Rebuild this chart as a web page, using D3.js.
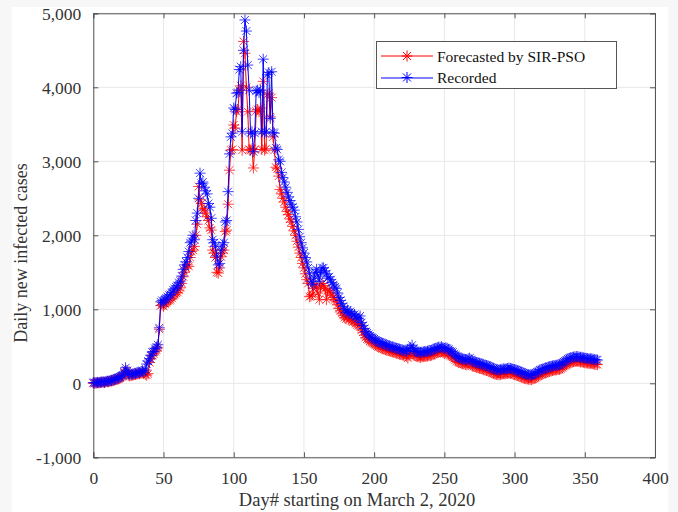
<!DOCTYPE html>
<html>
<head>
<meta charset="utf-8">
<script src="https://cdn.jsdelivr.net/npm/d3@7"></script>
<style>
  body { margin: 0; background: #f7f7f7; }
  svg { display: block; font-family: "Liberation Serif", "Times New Roman", serif; }
</style>
</head>
<body>
<div id="chart"></div>
<script>
// daily new infected cases, day 0 = March 2, 2020
const recorded = [
  10, 5, 8, 12, 10, 15, 18, 20, 15, 25,
  30, 28, 35, 40, 45, 55, 60, 70, 75, 85,
  100, 110, 150, 210, 170, 130, 115, 120, 125, 130,
  135, 140, 150, 145, 160, 170, 150, 180, 260, 300,
  330, 380, 420, 430, 470, 490, 520, 750, 1100, 1120,
  1090, 1130, 1150, 1170, 1190, 1200, 1230, 1260, 1280, 1300,
  1320, 1360, 1380, 1450, 1540, 1600, 1640, 1700, 1780, 1900,
  1920, 2000, 1940, 2200, 2300, 2500, 2840, 2700, 2720, 2650,
  2600, 2560, 2430, 2380, 2230, 1940, 1900, 1850, 1720, 1600,
  1620, 1800, 1870, 1900, 2180, 2200, 2590, 3100, 3330, 3380,
  3720, 3700, 3920, 3930, 4240, 4280, 3400, 4500, 4910, 4760,
  4300, 3960, 3380, 3400, 3130, 3380, 3950, 3960, 3930, 3960,
  3400, 4380, 3380, 3400, 4170, 4200, 3580, 4210, 3390, 3380,
  3180, 3160, 3020, 3000, 2850, 2780, 2720, 2650, 2580, 2520,
  2470, 2420, 2380, 2340, 2250, 2180, 2080, 1980, 1900, 1830,
  1760, 1700, 1640, 1560, 1480, 1380, 1330, 1420, 1500, 1540,
  1450, 1380, 1500, 1560, 1560, 1520, 1480, 1420, 1440, 1400,
  1360, 1330, 1300, 1280, 1220, 1160, 1120, 1080, 1040, 1000,
  960, 990, 950, 970, 940, 920, 930, 900, 870, 880,
  910, 820, 780, 740, 700, 680, 660, 640, 620, 610,
  600, 585, 570, 560, 555, 550, 540, 530, 520, 518,
  510, 505, 495, 490, 485, 480, 473, 470, 460, 455,
  450, 445, 440, 430, 450, 470, 480, 515, 470, 440,
  430, 425, 420, 418, 420, 425, 430, 427, 435, 440,
  440, 445, 460, 465, 473, 480, 490, 485, 495, 480,
  470, 478, 473, 460, 440, 430, 420, 400, 380, 360,
  350, 345, 340, 330, 325, 320, 315, 330, 340, 320,
  300, 295, 290, 280, 275, 270, 265, 260, 250, 245,
  240, 235, 225, 220, 210, 200, 190, 185, 182, 180,
  185, 190, 195, 192, 195, 200, 205, 203, 198, 190,
  185, 180, 170, 165, 157, 150, 140, 130, 125, 120,
  115, 112, 110, 120, 130, 140, 150, 160, 180, 185,
  190, 200, 205, 210, 220, 225, 230, 235, 240, 242,
  245, 247, 250, 260, 275, 290, 300, 315, 330, 338,
  345, 350, 355, 358, 362, 360, 355, 350, 352, 345,
  340, 338, 335, 330, 332, 330, 325, 320, 318, 315
];

const forecasted = [
  0, 5, 3, 8, 6, 10, 12, 15, 10, 18,
  22, 20, 28, 30, 35, 42, 48, 55, 60, 70,
  85, 95, 130, 180, 150, 110, 100, 105, 110, 115,
  118, 125, 130, 128, 140, 150, 135, 120, 110, 130,
  280, 330, 380, 400, 430, 450, 480, 730, 1050, 1060,
  1040, 1070, 1090, 1110, 1120, 1130, 1150, 1180, 1200, 1220,
  1230, 1260, 1290, 1350, 1440, 1500, 1560, 1600, 1580, 1700,
  1780, 1800, 1850, 2000, 2150, 2660, 2480, 2430, 2340, 2360,
  2300, 2250, 2200, 2100, 2070, 1800, 1760, 1700, 1500, 1490,
  1560, 1710, 1760, 1800, 2050, 2070, 2420, 2880, 3150, 3160,
  3490, 3450, 3670, 3700, 3960, 4020, 3150, 4620, 4460, 4000,
  3670, 3160, 3150, 3170, 2910, 3160, 3680, 3700, 3670, 3720,
  3160, 4080, 3150, 3170, 3900, 3920, 3600, 3860, 3330, 3150,
  2920, 2900, 2800, 2620, 2560, 2500, 2450, 2380, 2320, 2280,
  2220, 2180, 2120, 2060, 2000, 1920, 1840, 1760, 1700, 1620,
  1560, 1480, 1400, 1350, 1170, 1180, 1200, 1280, 1340, 1300,
  1220, 1130, 1300, 1350, 1320, 1280, 1130, 1250, 1260, 1220,
  1190, 1160, 1130, 1110, 1060, 1010, 980, 950, 920, 890,
  870, 900, 860, 880, 850, 830, 840, 810, 790, 780,
  800, 720, 690, 650, 620, 600, 590, 570, 555, 545,
  535, 520, 505, 495, 490, 480, 470, 462, 455, 450,
  445, 440, 430, 425, 420, 415, 408, 405, 395, 390,
  385, 380, 375, 365, 340, 380, 400, 420, 400, 375,
  365, 360, 355, 352, 355, 360, 365, 362, 370, 375,
  375, 380, 395, 400, 408, 415, 425, 420, 430, 415,
  405, 412, 408, 395, 375, 365, 355, 335, 315, 295,
  285, 280, 275, 265, 260, 255, 250, 262, 275, 255,
  235, 230, 225, 215, 210, 205, 200, 195, 185, 180,
  175, 170, 160, 155, 145, 135, 125, 120, 118, 115,
  120, 125, 130, 128, 130, 135, 140, 138, 133, 125,
  120, 115, 105, 100, 92, 85, 75, 68, 62, 58,
  55, 52, 50, 58, 68, 78, 88, 98, 115, 122,
  128, 138, 142, 148, 158, 162, 168, 172, 178, 180,
  183, 185, 188, 198, 212, 228, 238, 252, 268, 275,
  282, 288, 292, 296, 300, 298, 293, 288, 290, 283,
  278, 275, 272, 268, 270, 268, 263, 258, 255, 252
];

const xTicks = [0, 50, 100, 150, 200, 250, 300, 350, 400];
const yTicks = [-1000, 0, 1000, 2000, 3000, 4000, 5000];
const seriesNames = ['Forecasted by SIR-PSO', 'Recorded'];
const seriesColors = ['#ff0000', '#0000ff'];

const width = 678, height = 512;
const margin = { left: 93.3, right: 23, top: 13.3, bottom: 54.7 };

const svg = d3.select('#chart').append('svg')
    .attr('width', width)
    .attr('height', height);

svg.append('rect')
    .attr('x', 12).attr('y', 7)
    .attr('width', 656).attr('height', height - 7)
    .attr('fill', '#fff');

const x = d3.scaleLinear().domain([0, 400]).range([margin.left, width - margin.right]);
const y = d3.scaleLinear().domain([-1000, 5000]).range([height - margin.bottom, margin.top]);

// grid
svg.append('g').selectAll('line').data(xTicks).enter().append('line')
    .attr('x1', d => x(d)).attr('x2', d => x(d))
    .attr('y1', y(-1000)).attr('y2', y(5000))
    .attr('stroke', '#e8e8e8').attr('stroke-width', 1);
svg.append('g').selectAll('line').data(yTicks).enter().append('line')
    .attr('x1', x(0)).attr('x2', x(400))
    .attr('y1', d => y(d)).attr('y2', d => y(d))
    .attr('stroke', '#e8e8e8').attr('stroke-width', 1);

// axes (ticks inside, box all round)
const fmt = d => d3.format(',')(d).replace('\u2212', '-');
const axisColor = '#555';
const axes = [
    d3.axisBottom(x).tickValues(xTicks).tickSize(-5).tickFormat(d3.format('d')),
    d3.axisTop(x).tickValues(xTicks).tickSize(-5).tickFormat(''),
    d3.axisLeft(y).tickValues(yTicks).tickSize(-5).tickFormat(fmt),
    d3.axisRight(y).tickValues(yTicks).tickSize(-5).tickFormat('')
];
const axisPos = [
    `translate(0,${y(-1000)})`, `translate(0,${y(5000)})`,
    `translate(${x(0)},0)`, `translate(${x(400)},0)`
];
axes.forEach((ax, i) => {
    const g = svg.append('g').attr('transform', axisPos[i]).call(ax);
    g.select('.domain').attr('stroke', axisColor);
    g.selectAll('.tick line').attr('stroke', axisColor);
    g.selectAll('.tick text')
        .attr('fill', '#333')
        .style('font-size', '17.5px')
        .style('font-family', '"Liberation Serif", serif');
    if (i === 0) g.selectAll('.tick text').attr('dy', '1.05em').attr('y', 8);
    if (i === 2) g.selectAll('.tick text').attr('x', -12).attr('dy', '0.35em');
});

// axis labels
svg.append('text')
    .attr('x', 357).attr('y', 506)
    .attr('text-anchor', 'middle')
    .attr('fill', '#333')
    .style('font-size', '18.5px')
    .text('Day# starting on March 2, 2020');
svg.append('text')
    .attr('transform', `translate(27,253) rotate(-90)`)
    .attr('text-anchor', 'middle')
    .attr('fill', '#333')
    .style('font-size', '18px')
    .text('Daily new infected cases');

// asterisk marker like matlab '*'
const r = 5.5, k = r * 0.72;
const star = `M${-r},0H${r}M0,${-r}V${r}M${-k},${-k}L${k},${k}M${-k},${k}L${k},${-k}`;

const line = d3.line().x((d, i) => x(i)).y(d => y(d));
const plot = svg.append('g');

[forecasted, recorded].forEach((vals, s) => {
    const g = plot.append('g');
    g.append('path')
        .datum(vals)
        .attr('d', line)
        .attr('fill', 'none')
        .attr('stroke', seriesColors[s])
        .attr('stroke-width', 1);
    g.selectAll('path.m').data(vals).enter().append('path')
        .attr('class', 'm')
        .attr('transform', (d, i) => `translate(${x(i)},${y(d)})`)
        .attr('d', star)
        .attr('fill', 'none')
        .attr('stroke', seriesColors[s])
        .attr('stroke-opacity', 0.75)
        .attr('stroke-width', 1);
});

// legend
const lg = svg.append('g');
lg.append('rect')
    .attr('x', 376.5).attr('y', 41.5)
    .attr('width', 240).attr('height', 47)
    .attr('fill', '#fff')
    .attr('stroke', '#555').attr('stroke-width', 1);
seriesNames.forEach((name, i) => {
    const ly = 56 + i * 21.5;
    lg.append('line')
        .attr('x1', 381).attr('x2', 433)
        .attr('y1', Math.round(ly)).attr('y2', Math.round(ly))
        .attr('stroke', seriesColors[i]).attr('stroke-width', 1);
    lg.append('path')
        .attr('transform', `translate(407,${ly})`)
        .attr('d', star)
        .attr('fill', 'none')
        .attr('stroke', seriesColors[i]);
    lg.append('text')
        .attr('x', 437).attr('y', ly + 5.5)
        .attr('fill', '#111')
        .style('font-size', '15.5px')
        .text(name);
});
</script>
</body>
</html>
